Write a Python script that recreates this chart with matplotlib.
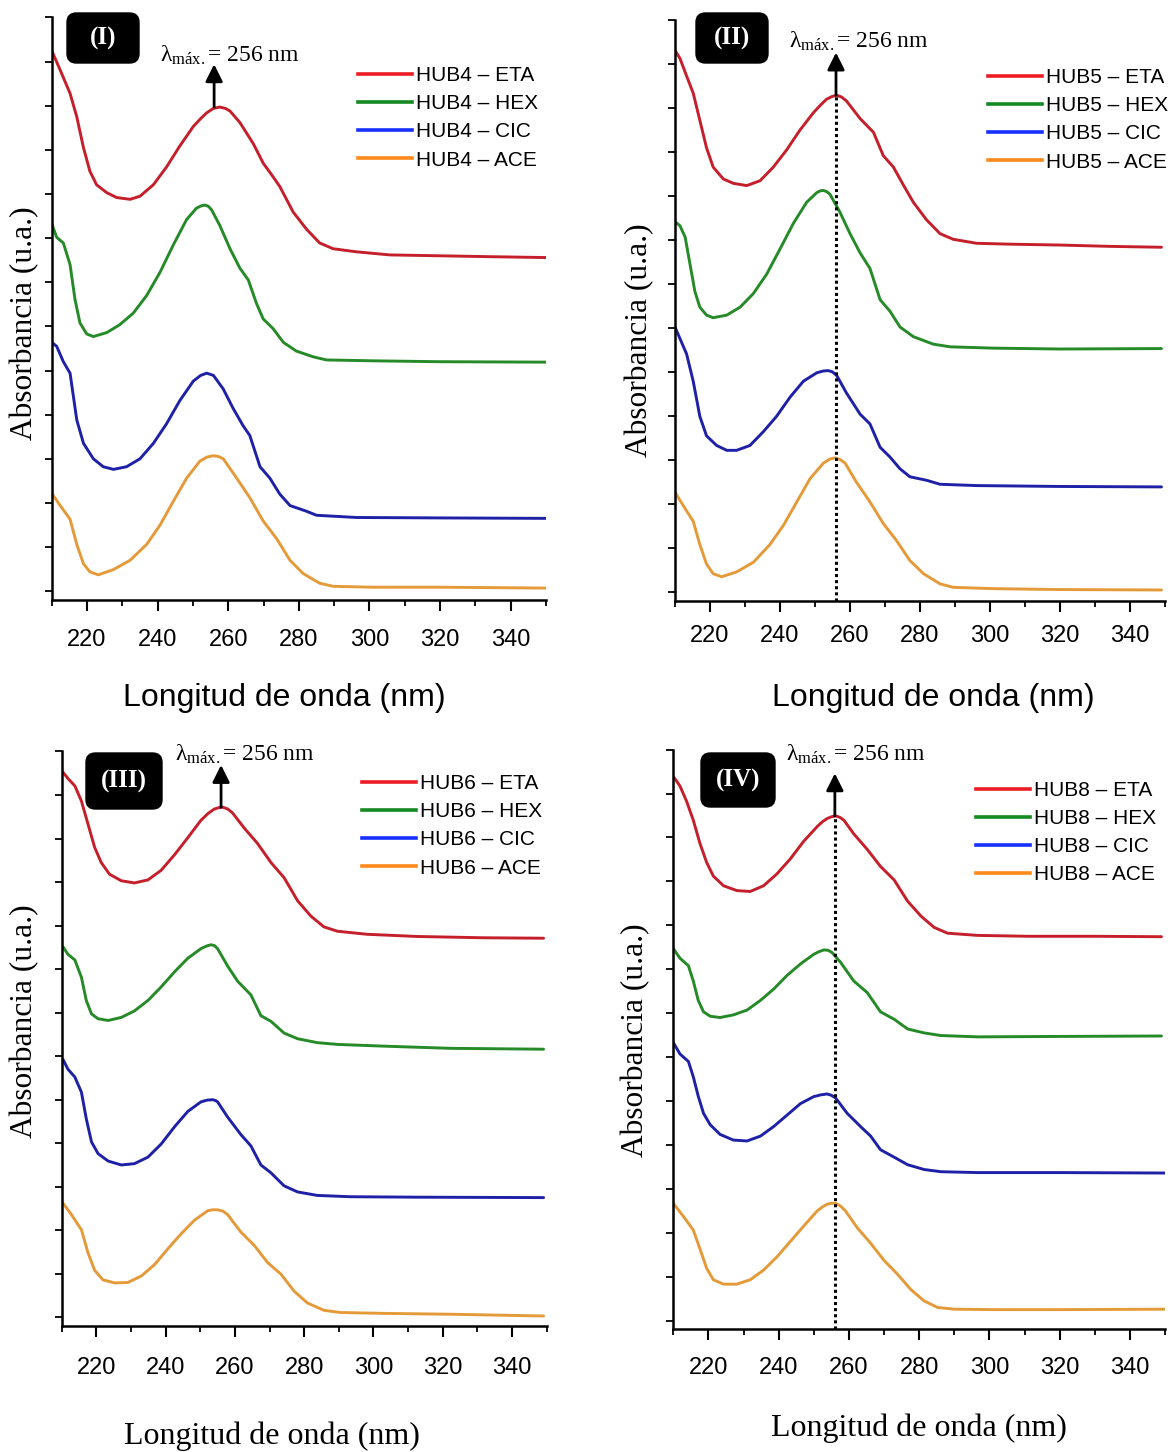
import matplotlib
matplotlib.use("Agg")
import matplotlib.pyplot as plt
from matplotlib.lines import Line2D
from matplotlib.patches import FancyBboxPatch, FancyArrowPatch
from matplotlib.ticker import MultipleLocator, NullFormatter

plt.rcParams["mathtext.fontset"] = "custom"
plt.rcParams["mathtext.rm"] = "Liberation Serif"
plt.rcParams["mathtext.it"] = "Liberation Serif:italic"
plt.rcParams["mathtext.bf"] = "Liberation Serif:bold"

SANS = "Liberation Sans"
SERIF = "Liberation Serif"

# ---------------------------------------------------------------- data
LAMBDA_MAX = 256
SAMPLES = ["HUB4", "HUB5", "HUB6", "HUB8"]
SOLVENTS = ["ETA", "HEX", "CIC", "ACE"]
PANEL_TAGS = ["(I)", "(II)", "(III)", "(IV)"]
X_TICKS = [220, 240, 260, 280, 300, 320, 340]
X_LABEL = "Longitud de onda (nm)"
Y_LABEL = "Absorbancia (u.a.)"

# HUB4
hub4_eta_nm = [210.0, 212.4, 215.2, 217.1, 219.0, 220.8, 222.7, 225.6, 228.4, 232.2, 235.0, 238.8,
               242.5, 246.3, 250.1, 252.2, 253.9, 255.8, 257.6, 259.2, 260.5, 263.3, 267.1, 269.9,
               272.7, 274.6, 278.4, 282.2, 285.9, 289.7, 296.3, 305.8, 319.9, 334.1, 350.0]
hub4_eta_abs = [1.225, 1.181, 1.128, 1.075, 1.005, 0.952, 0.921, 0.903, 0.892, 0.888, 0.895, 0.921,
                0.961, 1.009, 1.053, 1.071, 1.084, 1.094, 1.097, 1.094, 1.088, 1.062, 1.014, 0.970,
                0.939, 0.917, 0.859, 0.820, 0.789, 0.776, 0.769, 0.762, 0.760, 0.758, 0.756]
hub4_hex_nm = [210.0, 211.4, 213.3, 215.2, 216.6, 218.0, 219.9, 221.8, 225.6, 229.3, 233.1, 236.9,
               240.7, 244.4, 248.2, 251.0, 252.3, 253.4, 254.4, 255.3, 257.6, 260.5, 263.3, 265.7,
               268.0, 269.9, 272.7, 275.6, 279.3, 284.1, 287.8, 301.0, 319.9, 350.0]
hub4_hex_abs = [0.833, 0.802, 0.789, 0.740, 0.661, 0.608, 0.583, 0.577, 0.586, 0.604, 0.630, 0.670,
                0.723, 0.784, 0.842, 0.868, 0.873, 0.875, 0.872, 0.864, 0.829, 0.776, 0.732, 0.705,
                0.652, 0.617, 0.595, 0.564, 0.544, 0.531, 0.524, 0.522, 0.520, 0.519]
hub4_cic_nm = [210.0, 211.4, 213.3, 215.2, 217.1, 219.0, 221.8, 224.6, 227.5, 231.2, 235.0, 238.8,
               242.5, 246.3, 250.1, 252.2, 253.9, 255.8, 258.6, 261.4, 264.2, 266.1, 269.0, 271.8,
               274.6, 277.5, 282.2, 285.0, 296.3, 319.9, 350.0]
hub4_cic_abs = [0.564, 0.555, 0.520, 0.494, 0.388, 0.335, 0.300, 0.282, 0.276, 0.282, 0.300, 0.335,
                0.379, 0.432, 0.476, 0.489, 0.494, 0.489, 0.458, 0.414, 0.375, 0.353, 0.282, 0.256,
                0.220, 0.194, 0.181, 0.172, 0.167, 0.166, 0.165]
hub4_ace_nm = [210.0, 212.4, 215.2, 217.1, 219.0, 220.8, 223.2, 227.5, 232.2, 236.9, 240.7, 244.4,
               248.2, 252.0, 254.0, 255.8, 257.3, 258.6, 262.4, 266.1, 269.9, 273.7, 277.5, 281.2,
               285.9, 289.7, 301.0, 319.9, 350.0]
hub4_ace_abs = [0.222, 0.194, 0.163, 0.106, 0.062, 0.044, 0.037, 0.049, 0.070, 0.106, 0.150, 0.203,
                0.256, 0.295, 0.304, 0.307, 0.305, 0.300, 0.256, 0.212, 0.159, 0.119, 0.070, 0.040,
                0.018, 0.011, 0.009, 0.009, 0.007]

# HUB5
hub5_eta_nm = [210.0, 211.4, 213.3, 215.2, 217.1, 219.0, 220.9, 223.8, 226.7, 230.5, 234.3, 238.1,
               241.9, 245.7, 249.5, 251.6, 253.3, 254.8, 256.2, 257.6, 259.0, 262.9, 266.7, 269.5,
               272.4, 275.2, 278.1, 281.9, 285.7, 289.5, 296.2, 305.7, 320.0, 334.3, 349.0]
hub5_eta_abs = [1.230, 1.212, 1.172, 1.133, 1.071, 1.009, 0.965, 0.938, 0.928, 0.923, 0.934, 0.965,
                1.004, 1.049, 1.088, 1.106, 1.119, 1.125, 1.128, 1.124, 1.115, 1.075, 1.044, 0.991,
                0.965, 0.925, 0.885, 0.845, 0.814, 0.801, 0.792, 0.790, 0.788, 0.785, 0.783]
hub5_hex_nm = [210.0, 211.4, 212.9, 214.3, 215.7, 217.1, 219.0, 220.9, 224.8, 228.6, 232.4, 236.2,
               240.0, 243.8, 247.6, 250.5, 251.5, 252.4, 253.4, 254.3, 257.1, 260.0, 262.9, 265.7,
               268.6, 271.4, 274.3, 278.1, 283.8, 288.6, 301.0, 320.0, 349.0]
hub5_hex_abs = [0.841, 0.832, 0.806, 0.744, 0.682, 0.647, 0.629, 0.623, 0.629, 0.647, 0.678, 0.722,
                0.779, 0.837, 0.885, 0.907, 0.911, 0.912, 0.909, 0.903, 0.863, 0.814, 0.770, 0.735,
                0.664, 0.638, 0.602, 0.580, 0.563, 0.557, 0.554, 0.552, 0.553]
hub5_cic_nm = [210.0, 211.4, 213.3, 215.2, 217.1, 219.0, 221.9, 224.8, 227.6, 231.4, 235.2, 239.0,
               242.9, 246.7, 250.5, 252.3, 253.8, 255.0, 256.2, 259.0, 262.9, 265.7, 268.6, 271.4,
               274.3, 277.1, 281.9, 285.7, 296.2, 320.0, 349.0]
hub5_cic_abs = [0.602, 0.576, 0.541, 0.479, 0.399, 0.355, 0.333, 0.322, 0.322, 0.333, 0.364, 0.399,
                0.443, 0.479, 0.498, 0.502, 0.503, 0.500, 0.492, 0.452, 0.404, 0.382, 0.329, 0.307,
                0.280, 0.262, 0.254, 0.245, 0.242, 0.240, 0.239]
hub5_ace_nm = [210.0, 212.4, 215.2, 217.1, 219.0, 220.9, 223.3, 227.6, 232.4, 237.1, 241.0, 244.8,
               248.6, 252.4, 254.2, 255.7, 257.2, 258.6, 261.9, 265.7, 269.5, 273.3, 277.1, 281.0,
               285.7, 289.5, 301.0, 320.0, 349.0]
hub5_ace_abs = [0.227, 0.196, 0.161, 0.108, 0.064, 0.042, 0.035, 0.046, 0.068, 0.108, 0.152, 0.205,
                0.258, 0.293, 0.302, 0.305, 0.301, 0.293, 0.249, 0.205, 0.156, 0.117, 0.072, 0.042,
                0.019, 0.011, 0.008, 0.006, 0.005]

# HUB6
hub6_eta_nm = [210.4, 211.8, 213.8, 215.7, 217.6, 219.5, 221.4, 223.8, 227.2, 231.0, 234.9, 238.7,
               242.6, 246.4, 250.2, 252.3, 254.1, 255.4, 256.5, 257.9, 259.3, 262.7, 266.5, 270.4,
               274.2, 278.1, 281.9, 285.7, 289.6, 298.2, 312.6, 331.8, 349.1]
hub6_eta_abs = [1.252, 1.238, 1.221, 1.186, 1.133, 1.080, 1.045, 1.018, 1.003, 0.998, 1.005, 1.027,
                1.063, 1.102, 1.142, 1.158, 1.168, 1.171, 1.172, 1.168, 1.159, 1.124, 1.089, 1.045,
                1.010, 0.957, 0.922, 0.897, 0.887, 0.880, 0.875, 0.872, 0.871]
hub6_hex_nm = [210.4, 211.8, 213.8, 215.7, 217.1, 218.6, 220.5, 223.4, 227.2, 231.0, 234.9, 238.7,
               242.6, 246.4, 250.2, 251.8, 253.1, 254.1, 255.0, 257.9, 260.8, 264.6, 267.5, 270.4,
               274.2, 278.1, 283.8, 289.6, 303.0, 322.2, 349.1]
hub6_hex_abs = [0.851, 0.834, 0.821, 0.781, 0.728, 0.697, 0.686, 0.682, 0.689, 0.704, 0.728, 0.759,
                0.794, 0.825, 0.847, 0.853, 0.856, 0.854, 0.847, 0.807, 0.772, 0.741, 0.693, 0.680,
                0.653, 0.640, 0.631, 0.627, 0.623, 0.618, 0.616]
hub6_cic_nm = [210.4, 211.8, 213.8, 215.7, 217.1, 218.6, 220.5, 223.4, 227.2, 231.0, 234.9, 238.7,
               242.6, 246.4, 250.2, 252.0, 253.6, 254.4, 255.0, 257.9, 261.7, 264.6, 267.5, 270.4,
               274.2, 278.1, 283.8, 293.4, 312.6, 349.1]
hub6_cic_abs = [0.592, 0.570, 0.552, 0.517, 0.456, 0.403, 0.376, 0.359, 0.350, 0.353, 0.368, 0.398,
                0.438, 0.473, 0.495, 0.499, 0.500, 0.498, 0.495, 0.460, 0.420, 0.394, 0.350, 0.332,
                0.302, 0.288, 0.280, 0.277, 0.276, 0.275]
hub6_ace_nm = [210.4, 212.8, 215.7, 217.6, 219.5, 221.9, 225.3, 229.1, 233.0, 236.8, 240.6, 244.5,
               248.3, 252.2, 253.6, 255.0, 256.5, 257.9, 261.7, 265.6, 269.4, 273.3, 277.1, 280.9,
               285.7, 290.5, 303.0, 322.2, 349.1]
hub6_ace_abs = [0.262, 0.236, 0.201, 0.148, 0.108, 0.086, 0.079, 0.080, 0.095, 0.121, 0.157, 0.192,
                0.223, 0.245, 0.247, 0.247, 0.244, 0.236, 0.196, 0.165, 0.126, 0.099, 0.060, 0.033,
                0.016, 0.011, 0.009, 0.007, 0.003]

# HUB8
hub8_eta_nm = [210.0, 211.9, 213.8, 215.7, 217.6, 219.5, 221.4, 224.3, 228.1, 231.9, 235.7, 239.5,
               243.3, 247.1, 251.0, 252.5, 253.8, 255.0, 256.2, 257.4, 258.6, 261.4, 265.2, 269.0,
               272.9, 276.7, 280.5, 284.3, 288.1, 296.7, 311.0, 330.0, 349.0]
hub8_eta_abs = [1.239, 1.217, 1.182, 1.139, 1.086, 1.043, 1.012, 0.990, 0.979, 0.977, 0.990, 1.017,
                1.051, 1.091, 1.125, 1.136, 1.143, 1.147, 1.149, 1.146, 1.139, 1.108, 1.073, 1.034,
                1.003, 0.955, 0.921, 0.895, 0.882, 0.877, 0.875, 0.875, 0.874]
hub8_hex_nm = [210.0, 211.9, 214.3, 215.7, 217.1, 218.6, 220.5, 223.3, 227.1, 231.0, 234.8, 238.6,
               242.4, 246.2, 250.0, 251.5, 252.9, 254.1, 255.2, 257.6, 261.4, 265.2, 269.0, 272.9,
               276.7, 281.4, 286.2, 296.7, 320.5, 349.0]
hub8_hex_abs = [0.847, 0.825, 0.808, 0.773, 0.729, 0.703, 0.693, 0.690, 0.696, 0.707, 0.729, 0.755,
                0.786, 0.812, 0.834, 0.840, 0.844, 0.843, 0.838, 0.816, 0.773, 0.747, 0.703, 0.686,
                0.664, 0.655, 0.649, 0.646, 0.647, 0.648]
hub8_cic_nm = [210.0, 211.9, 214.3, 215.7, 217.1, 218.6, 220.5, 223.3, 227.1, 231.0, 234.8, 238.6,
               242.4, 246.2, 250.0, 252.0, 253.8, 255.0, 256.2, 259.5, 263.3, 266.2, 269.0, 272.9,
               276.7, 281.4, 286.2, 296.7, 320.5, 350.0]
hub8_cic_abs = [0.633, 0.607, 0.590, 0.555, 0.511, 0.472, 0.446, 0.424, 0.411, 0.409, 0.420, 0.442,
                0.468, 0.494, 0.510, 0.514, 0.516, 0.513, 0.507, 0.472, 0.442, 0.420, 0.389, 0.372,
                0.355, 0.344, 0.339, 0.337, 0.337, 0.336]
hub8_ace_nm = [210.0, 212.9, 215.7, 217.6, 219.5, 221.4, 224.3, 228.1, 231.9, 235.7, 239.5, 243.3,
               247.1, 251.0, 252.5, 253.8, 255.0, 256.2, 257.6, 259.0, 262.4, 266.2, 270.0, 273.8,
               277.6, 281.4, 285.2, 290.0, 301.4, 320.5, 350.0]
hub8_ace_abs = [0.267, 0.237, 0.206, 0.163, 0.119, 0.093, 0.083, 0.083, 0.093, 0.115, 0.145, 0.180,
                0.215, 0.250, 0.259, 0.265, 0.267, 0.267, 0.261, 0.250, 0.211, 0.176, 0.137, 0.106,
                0.071, 0.045, 0.030, 0.026, 0.025, 0.025, 0.026]

SPECTRA = {
    "HUB4": {"ETA": (hub4_eta_nm, hub4_eta_abs), "HEX": (hub4_hex_nm, hub4_hex_abs),
             "CIC": (hub4_cic_nm, hub4_cic_abs), "ACE": (hub4_ace_nm, hub4_ace_abs)},
    "HUB5": {"ETA": (hub5_eta_nm, hub5_eta_abs), "HEX": (hub5_hex_nm, hub5_hex_abs),
             "CIC": (hub5_cic_nm, hub5_cic_abs), "ACE": (hub5_ace_nm, hub5_ace_abs)},
    "HUB6": {"ETA": (hub6_eta_nm, hub6_eta_abs), "HEX": (hub6_hex_nm, hub6_hex_abs),
             "CIC": (hub6_cic_nm, hub6_cic_abs), "ACE": (hub6_ace_nm, hub6_ace_abs)},
    "HUB8": {"ETA": (hub8_eta_nm, hub8_eta_abs), "HEX": (hub8_hex_nm, hub8_hex_abs),
             "CIC": (hub8_cic_nm, hub8_cic_abs), "ACE": (hub8_ace_nm, hub8_ace_abs)},
}

# ---------------------------------------------------------------- style
CURVE_COLORS = {"ETA": "#c41f2b", "HEX": "#258a27", "CIC": "#1e20a6", "ACE": "#e59a3a"}
LEGEND_COLORS = {"ETA": "#ec1c24", "HEX": "#158a22", "CIC": "#1830ff", "ACE": "#ff8a1c"}

W, H, DPI = 1174, 1452, 100

# panel geometry in pixels: axes box (left, top, right, bottom), legend anchor,
# tag box (x, y, w, h), lambda label anchor, axis-label centres, tick-label pad
PANELS = [
    dict(box=(51.7, 17.5, 546.0, 600.0), legend=(358, 66), tag=(67, 13, 72, 50),
         lam=(160, 62), dotted=False, xlab=(284, 698), xfam=SANS, ylab=(25, 323), pad=13),
    dict(box=(675.0, 19.5, 1165.0, 601.0), legend=(988, 68), tag=(696, 13, 72, 50),
         lam=(789, 48), dotted=True, xlab=(933, 698), xfam=SANS, ylab=(640, 340), pad=9),
    dict(box=(61.7, 751.5, 546.7, 1326.0), legend=(362, 774), tag=(86, 753, 76, 56),
         lam=(175, 761), dotted=False, xlab=(272, 1436), xfam=SERIF, ylab=(25, 1021), pad=14),
    dict(box=(673.3, 749.6, 1165.0, 1329.4), legend=(976, 781), tag=(701, 753, 74, 54),
         lam=(786, 761), dotted=True, xlab=(919, 1428), xfam=SERIF, ylab=(636, 1040), pad=12),
]
Y_LIMITS = (-0.02, 1.30)
X_LIMITS = (210, 350)
BAND_START = 240          # the absorption band sits beyond this wavelength
ARROW_RISE = 0.097


def fx(x):
    return x / W


def fy(y):
    return 1 - y / H


fig = plt.figure(figsize=(W / DPI, H / DPI), dpi=DPI)

for sample, tag, p in zip(SAMPLES, PANEL_TAGS, PANELS):
    l, t, r, b = p["box"]
    ax = fig.add_axes([fx(l), fy(b), (r - l) / W, (b - t) / H])

    for solvent in SOLVENTS:
        nm, ab = SPECTRA[sample][solvent]
        ax.plot(nm, ab, color=CURVE_COLORS[solvent], lw=2.1,
                solid_joinstyle="round", solid_capstyle="round")

    ax.set_xlim(*X_LIMITS)
    ax.set_ylim(*Y_LIMITS)
    for side in ("top", "right"):
        ax.spines[side].set_visible(False)
    for side in ("left", "bottom"):
        ax.spines[side].set_linewidth(1.8)

    ax.set_xticks(X_TICKS)
    ax.xaxis.set_minor_locator(MultipleLocator(10))
    ax.yaxis.set_major_locator(MultipleLocator(0.1))
    ax.yaxis.set_major_formatter(NullFormatter())
    ax.tick_params(axis="x", which="major", direction="out", length=8, width=1.5,
                   pad=p["pad"], labelsize=17)
    ax.tick_params(axis="x", which="minor", direction="out", length=4, width=1.3)
    ax.tick_params(axis="y", which="major", direction="out", length=5, width=1.3)
    for lab in ax.get_xticklabels():
        lab.set_fontfamily(SANS)

    # absorption maximum of the ethanol spectrum, marked at the stated wavelength
    eta_nm, eta_abs = SPECTRA[sample]["ETA"]
    peak = max(a for w, a in zip(eta_nm, eta_abs) if w >= BAND_START)
    arrow = FancyArrowPatch((LAMBDA_MAX, peak), (LAMBDA_MAX, peak + ARROW_RISE),
                            arrowstyle="-|>", mutation_scale=26, color="black",
                            lw=2.0, shrinkA=0, shrinkB=0, clip_on=False, zorder=6)
    ax.add_patch(arrow)
    if p["dotted"]:
        ax.plot([LAMBDA_MAX, LAMBDA_MAX], [Y_LIMITS[0], peak], color="black",
                lw=2.2, linestyle=(0, (1, 1)), zorder=5)

    fig.text(fx(p["lam"][0]), fy(p["lam"][1]),
             r"$\mathrm{λ}_{\mathrm{máx.}}$" + f"= {LAMBDA_MAX} nm",
             fontfamily=SERIF, fontsize=17, ha="left", va="baseline")

    handles = [Line2D([], [], color=LEGEND_COLORS[s], lw=2.6) for s in SOLVENTS]
    labels = [f"{sample} – {s}" for s in SOLVENTS]
    ax.legend(handles, labels, loc="upper left",
              bbox_to_anchor=(fx(p["legend"][0]), fy(p["legend"][1])),
              bbox_transform=fig.transFigure, frameon=False, borderpad=0,
              borderaxespad=0, handlelength=2.6, handletextpad=0.2,
              labelspacing=0.44, prop=dict(family=SANS, size=15))

    # panel tag
    tx, ty, tw, th = p["tag"]
    fig.patches.append(FancyBboxPatch((fx(tx), fy(ty + th)), tw / W, th / H,
                                      boxstyle="round,pad=0,rounding_size=0.008",
                                      transform=fig.transFigure, fc="black", ec="black",
                                      mutation_aspect=W / H))
    fig.text(fx(tx + tw / 2), fy(ty + th / 2), tag, color="white", fontfamily=SERIF,
             fontweight="bold", fontsize=18, ha="center", va="center")

    fig.text(fx(p["xlab"][0]), fy(p["xlab"][1]), X_LABEL, fontfamily=p["xfam"],
             fontsize=23, ha="center", va="center")
    fig.text(fx(p["ylab"][0]), fy(p["ylab"][1]), Y_LABEL, fontfamily=SERIF,
             fontsize=22.6, rotation=90, ha="center", va="center")

fig.savefig("out.png", dpi=DPI)
